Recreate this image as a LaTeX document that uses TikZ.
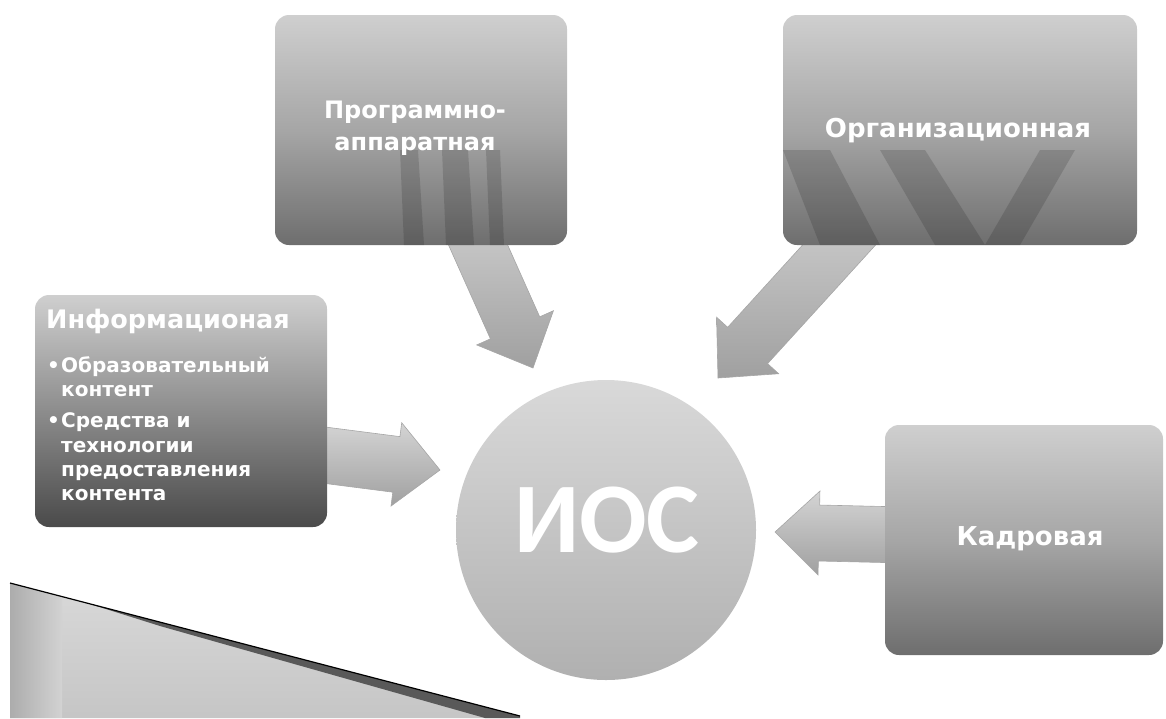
\documentclass[tikz,border=0pt]{standalone}
\usepackage{fontspec}
\setmainfont{DejaVu Sans}
\newfontfamily\calfont{Carlito}
\usetikzlibrary{calc}
\definecolor{boxtop}{HTML}{CFCFCF}
\definecolor{boxmid}{HTML}{A6A6A6}
\definecolor{boxbot}{HTML}{6E6E6E}
\definecolor{boxdark}{HTML}{4A4A4A}
\definecolor{arrtop}{HTML}{D4D4D4}
\definecolor{arrbot}{HTML}{A0A0A0}
\newcommand\myblockarrow[5]{%
  \coordinate (tmpH) at ($(#2)!#5!(#1)$);
  \shade[arrowshade]
    ($(#1)!#3!90:(#2)$) -- ($(tmpH)!#3!90:(#2)$) -- ($(tmpH)!#4!90:(#2)$) -- (#2)
    -- ($(tmpH)!#4!-90:(#2)$) -- ($(tmpH)!#3!-90:(#2)$) -- ($(#1)!#3!-90:(#2)$) -- cycle;
}
\begin{document}
\begin{tikzpicture}[x=1pt,y=-1pt,
  box/.style={rounded corners=14pt, inner sep=0pt, top color=boxtop, bottom color=boxbot, middle color=boxmid},
  arrowshade/.style={top color=arrtop, bottom color=arrbot, draw=gray!70, line width=0.6pt},
  boxtext/.style={text=white, font=\bfseries\fontsize{25}{32}\selectfont, align=center},
  listtext/.style={text=white, font=\bfseries\fontsize{20}{24}\selectfont, anchor=base west, inner sep=0pt},
  band/.style={fill=black, opacity=0.14}]
\useasboundingbox (0,0) rectangle (1166,718);

% decorative fragment bottom-left
\shade[top color=gray!30, bottom color=gray!45] (10,583) -- (520,718) -- (10,718) -- cycle;
\shade[left color=gray!65, right color=gray!35] (10,583) -- (62,597) -- (62,718) -- (10,718) -- cycle;
\fill[gray!70!black] (90,604) -- (520,716) -- (520,718) -- (485,718) -- (160,626) -- cycle;
\draw[black, line width=1.2pt] (10,583) -- (520,716);

% arrows
\coordinate (a1s) at (458,200); \coordinate (a1e) at (533,368);
\coordinate (a2s) at (880,200); \coordinate (a2e) at (718,378);
\coordinate (a3s) at (300,452); \coordinate (a3e) at (440,470);
\coordinate (a4s) at (905,535); \coordinate (a4e) at (775,532);
\myblockarrow{a1s}{a1e}{27pt}{42pt}{44pt}
\myblockarrow{a2s}{a2e}{27pt}{42pt}{44pt}
\myblockarrow{a3s}{a3e}{28pt}{42pt}{44pt}
\myblockarrow{a4s}{a4e}{28pt}{42pt}{44pt}

% boxes
\node[box, minimum width=292, minimum height=230] (pa) at (421,130) {};
\node[box, minimum width=354, minimum height=230] (org) at (960,130) {};
\node[box, bottom color=boxdark, minimum width=292, minimum height=232] (inf) at (181,411) {};
\node[box, minimum width=278, minimum height=230] (kad) at (1024,540) {};

% background textures inside boxes
\begin{scope}
  \clip[rounded corners=14pt] (275,15) rectangle (567,245);
  \fill[band] (400,150) -- (418,150) -- (424,245) -- (404,245) -- cycle;
  \fill[band] (442,150) -- (468,150) -- (474,245) -- (446,245) -- cycle;
  \fill[band] (486,150) -- (500,150) -- (504,245) -- (490,245) -- cycle;
\end{scope}
\begin{scope}
  \clip[rounded corners=14pt] (783,15) rectangle (1137,245);
  \fill[band] (783,150) -- (830,150) -- (880,245) -- (820,245) -- cycle;
  \fill[band] (880,150) -- (925,150) -- (985,245) -- (935,245) -- cycle;
  \fill[band] (985,245) -- (1040,150) -- (1075,150) -- (1020,245) -- cycle;
\end{scope}

% circle
\node[circle, minimum size=300, inner sep=0pt, top color=gray!30, bottom color=gray!62] (ios) at (606,530) {};
\node[text=white, font=\calfont\bfseries\fontsize{100}{100}\selectfont, inner sep=0pt] (iost) at (607,520) {ИОС};

% box texts
\node[boxtext, font=\bfseries\fontsize{24}{32}\selectfont] (pat) at (415,128) {Программно-\\аппаратная};
\node[boxtext, font=\bfseries\fontsize{26}{32}\selectfont] (orgt) at (958,131) {Организационная};
\node[boxtext, font=\bfseries\fontsize{26}{32}\selectfont] (kadt) at (1030,539) {Кадровая};

% information box texts
\node[listtext, font=\bfseries\fontsize{25.5}{30}\selectfont] (it) at (46,328) {Информационая};
\node[listtext] (b1) at (47,372) {•};
\node[listtext] (l1) at (61,372) {Образовательный};
\node[listtext] (l2) at (61,396) {контент};
\node[listtext] (b2) at (47,427) {•};
\node[listtext] (l3) at (61,427) {Средства и};
\node[listtext] (l4) at (61,452) {технологии};
\node[listtext] (l5) at (61,476) {предоставления};
\node[listtext] (l6) at (61,500) {контента};
\end{tikzpicture}
\end{document}
